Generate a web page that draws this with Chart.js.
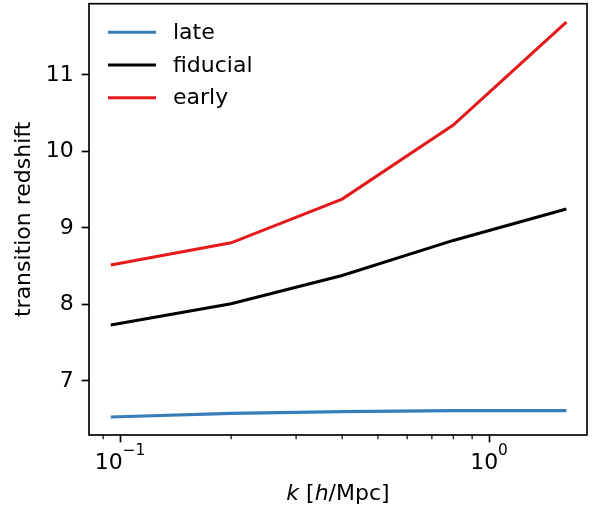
<!DOCTYPE html>
<html>
<head>
<meta charset="utf-8">
<script src="https://cdn.jsdelivr.net/npm/chart.js@4.4.0/dist/chart.umd.min.js"></script>
<style>
  html, body { margin: 0; padding: 0; background: #fff; }
  #wrap { width: 595px; height: 511px; }
</style>
</head>
<body>
<div id="wrap"><canvas id="chart" width="595" height="511"></canvas></div>
<script>
// values
const kValues = [0.0944, 0.2, 0.4, 0.8, 1.62];
const lateZ = [6.53, 6.577, 6.600, 6.613, 6.612];
const fiducialZ = [7.732, 8.010, 8.378, 8.838, 9.248];
const earlyZ = [8.516, 8.806, 9.377, 10.346, 11.69];
const seriesNames = ['late', 'fiducial', 'early'];
const seriesColors = ['#377eb8', '#000000', '#e41a1c'];
const xMajorTicks = [0.1, 1];
const xMajorExponents = ['−1', '0'];
const xMinorTicks = [0.09, 0.2, 0.3, 0.4, 0.5, 0.6, 0.7, 0.8, 0.9];
const yTicks = [7, 8, 9, 10, 11];
const xRange = [0.0824, 1.843];
const yRange = [6.294, 11.932];

const FONT = 'DejaVu Sans';
const FSIZE = 22;

const toPoints = ys => kValues.map((k, i) => ({ x: k, y: ys[i] }));
const seriesValues = [lateZ, fiducialZ, earlyZ];

// frame, minor ticks, power-of-ten labels, legend and the mixed-style x label
const extrasPlugin = {
    id: 'extras',
    afterDraw(chart) {
        const { ctx, chartArea: a, scales } = chart;
        ctx.save();
        ctx.strokeStyle = '#000';
        ctx.lineWidth = 1.2;
        xMinorTicks.forEach(v => {
            const x = scales.x.getPixelForValue(v);
            ctx.beginPath();
            ctx.moveTo(x, a.bottom);
            ctx.lineTo(x, a.bottom + 4.2);
            ctx.stroke();
        });

        ctx.lineWidth = 1.67;
        ctx.strokeRect(a.left, a.top, a.right - a.left, a.bottom - a.top);

        // 10^n tick labels
        ctx.fillStyle = '#000';
        ctx.textBaseline = 'alphabetic';
        ctx.textAlign = 'left';
        const big = `${FSIZE}px "${FONT}"`;
        const small = `${FSIZE * 0.7}px "${FONT}"`;
        xMajorTicks.forEach((v, i) => {
            const x = scales.x.getPixelForValue(v);
            ctx.font = big;
            const wb = ctx.measureText('10').width;
            ctx.font = small;
            const ws = ctx.measureText(xMajorExponents[i]).width;
            const x0 = x - (wb + ws) / 2;
            ctx.font = big;
            ctx.fillText('10', x0, a.bottom + 33.5);
            ctx.font = small;
            ctx.fillText(xMajorExponents[i], x0 + wb, a.bottom + 20);
        });

        // legend
        ctx.font = big;
        ctx.textBaseline = 'middle';
        seriesNames.forEach((name, i) => {
            const y = a.top + 28.6 + i * 32.7;
            ctx.strokeStyle = seriesColors[i];
            ctx.lineWidth = 3.1;
            ctx.beginPath();
            ctx.moveTo(a.left + 19, y);
            ctx.lineTo(a.left + 67, y);
            ctx.stroke();
            ctx.fillText(name, a.left + 84, y + 1);
        });

        // x axis title: k [h/Mpc] with italic k and h
        const parts = [['k', true], [' [', false], ['h', true], ['/Mpc]', false]];
        const fontOf = it => `${it ? 'oblique ' : ''}${FSIZE}px "${FONT}"`;
        let total = 0;
        parts.forEach(([t, it]) => { ctx.font = fontOf(it); total += ctx.measureText(t).width; });
        let x = (a.left + a.right) / 2 - total / 2;
        ctx.textBaseline = 'alphabetic';
        parts.forEach(([t, it]) => {
            ctx.font = fontOf(it);
            ctx.fillText(t, x, 500);
            x += ctx.measureText(t).width;
        });
        ctx.restore();
    }
};

new Chart(document.getElementById('chart'), {
    type: 'line',
    data: {
        datasets: seriesNames.map((name, i) => ({
            label: name,
            data: toPoints(seriesValues[i]),
            borderColor: seriesColors[i],
            borderWidth: 3.1,
            pointRadius: 0,
            tension: 0,
            fill: false
        }))
    },
    options: {
        responsive: false,
        animation: false,
        devicePixelRatio: 1,
        layout: { padding: { top: 3.7, right: 8, left: 0, bottom: 0 } },
        plugins: { legend: { display: false }, tooltip: { enabled: false } },
        scales: {
            x: {
                type: 'logarithmic',
                min: xRange[0],
                max: xRange[1],
                afterBuildTicks: s => { s.ticks = xMajorTicks.map(v => ({ value: v })); },
                afterFit: s => { s.height = 76; s.paddingLeft = 0; s.paddingRight = 0; },
                grid: { drawOnChartArea: false, tickLength: 7.3, tickWidth: 1.67, color: '#000' },
                border: { display: false },
                ticks: {
                    autoSkip: false,
                    maxRotation: 0,
                    callback: () => ''
                }
            },
            y: {
                type: 'linear',
                min: yRange[0],
                max: yRange[1],
                afterBuildTicks: s => { s.ticks = yTicks.map(v => ({ value: v })); },
                afterFit: s => { s.width = 89; s.paddingTop = 0; s.paddingBottom = 0; },
                grid: { drawOnChartArea: false, tickLength: 7.3, tickWidth: 1.67, color: '#000' },
                border: { display: false },
                ticks: { padding: 8, color: '#000', font: { family: FONT, size: FSIZE } },
                title: {
                    display: true,
                    text: 'transition redshift',
                    color: '#000',
                    font: { family: FONT, size: FSIZE },
                    padding: { top: 11, bottom: 0 }
                }
            }
        }
    },
    plugins: [extrasPlugin]
});
</script>
</body>
</html>
